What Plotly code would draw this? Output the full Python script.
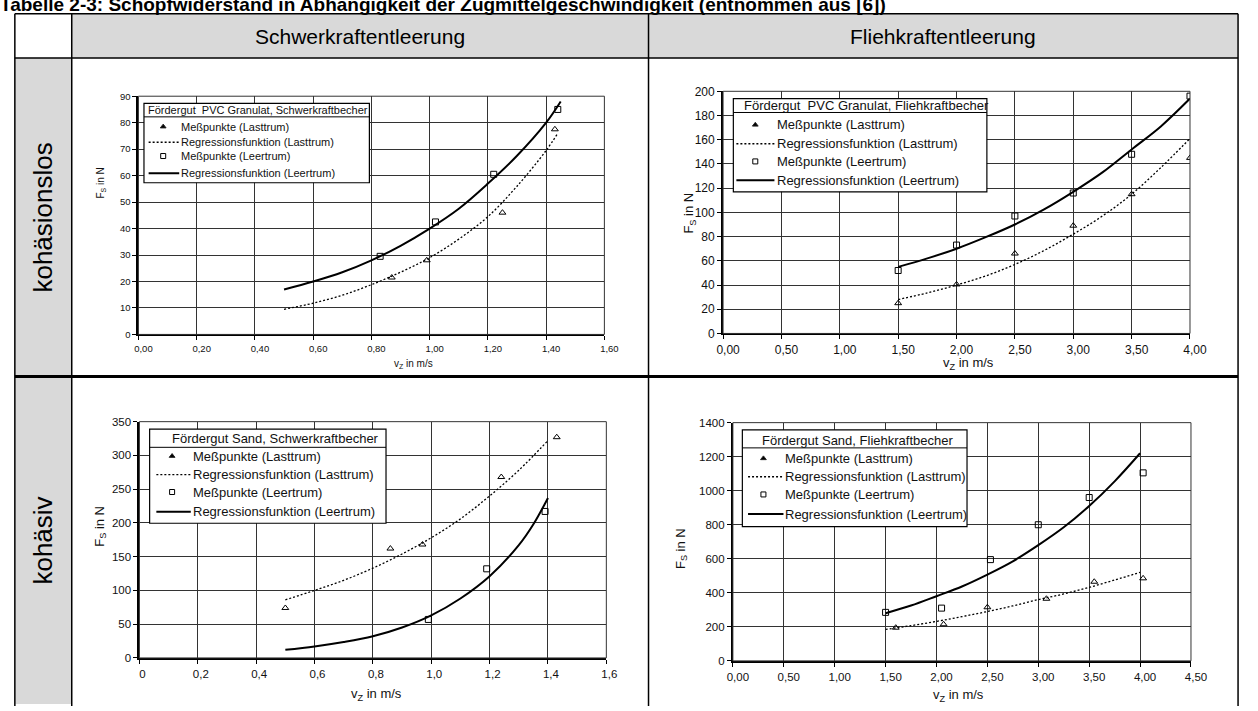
import plotly.graph_objects as go

W, H = 1258, 711

# ---------------- data ----------------
# PVC Granulat, Schwerkraftbecher
pvc_s_last_v = [0.87, 0.99, 1.25, 1.43]
pvc_s_last_f = [21.5, 28.0, 46.0, 77.5]
pvc_s_leer_v = [0.83, 1.02, 1.22, 1.44]
pvc_s_leer_f = [29.5, 42.5, 60.5, 85.0]
pvc_s_reg_last_v = [0.50, 0.60, 0.70, 0.80, 0.90, 1.00, 1.10, 1.20, 1.30, 1.40, 1.44]
pvc_s_reg_last_f = [9.5, 11.8, 14.8, 18.8, 23.5, 29.0, 36.0, 44.5, 56.0, 69.5, 76.0]
pvc_s_reg_leer_v = [0.50, 0.60, 0.70, 0.80, 0.90, 1.00, 1.10, 1.20, 1.30, 1.40, 1.45]
pvc_s_reg_leer_f = [17.0, 20.0, 23.5, 28.0, 33.5, 40.0, 47.5, 57.0, 67.5, 80.0, 88.0]

# PVC Granulat, Fliehkraftbecher
pvc_f_last_v = [1.5, 2.0, 2.5, 3.0, 3.5, 4.0]
pvc_f_last_f = [25.0, 40.5, 66.0, 89.0, 115.0, 145.0]
pvc_f_leer_v = [1.5, 2.0, 2.5, 3.0, 3.5, 4.0]
pvc_f_leer_f = [52.0, 73.0, 97.0, 116.0, 148.0, 196.0]
pvc_f_reg_v = [1.50, 1.75, 2.00, 2.25, 2.50, 2.75, 3.00, 3.25, 3.50, 3.75, 4.00]
pvc_f_reg_last_f = [28.0, 33.5, 40.0, 47.5, 57.0, 68.5, 82.0, 97.0, 115.0, 137.0, 161.0]
pvc_f_reg_leer_f = [55.0, 62.0, 70.0, 79.5, 90.0, 102.5, 117.0, 133.0, 152.0, 171.0, 194.0]

# Sand, Schwerkraftbecher
sand_s_last_v = [0.50, 0.86, 0.97, 1.24, 1.43]
sand_s_last_f = [74.0, 162.0, 168.0, 268.0, 327.0]
sand_s_leer_v = [0.99, 1.19, 1.39]
sand_s_leer_f = [57.0, 132.0, 217.0]
sand_s_reg_last_v = [0.5, 0.6, 0.7, 0.8, 0.9, 1.0, 1.1, 1.2, 1.3, 1.4]
sand_s_reg_last_f = [86.0, 100.0, 115.0, 133.0, 154.0, 178.0, 206.0, 240.0, 278.0, 322.0]
sand_s_reg_leer_v = [0.50, 0.60, 0.70, 0.80, 0.90, 1.00, 1.10, 1.20, 1.30, 1.35, 1.40]
sand_s_reg_leer_f = [12.0, 17.0, 23.5, 32.0, 45.0, 63.0, 88.0, 121.0, 167.0, 198.0, 237.0]

# Sand, Fliehkraftbecher
sand_f_last_v = [1.60, 2.07, 2.50, 3.08, 3.55, 4.03]
sand_f_last_f = [195.0, 215.0, 315.0, 365.0, 465.0, 485.0]
sand_f_leer_v = [1.50, 2.05, 2.53, 3.00, 3.50, 4.03]
sand_f_leer_f = [285.0, 310.0, 595.0, 800.0, 960.0, 1105.0]
sand_f_reg_v = [1.50, 1.75, 2.00, 2.25, 2.50, 2.75, 3.00, 3.25, 3.50, 3.75, 4.00]
sand_f_reg_last_f = [185.0, 207.0, 232.0, 260.0, 290.0, 323.0, 360.0, 393.0, 432.0, 475.0, 520.0]
sand_f_reg_leer_f = [280.0, 325.0, 380.0, 437.0, 507.0, 585.0, 680.0, 785.0, 910.0, 1055.0, 1220.0]

# tick values and labels
tl_x_ticks = [0.0, 0.2, 0.4, 0.6, 0.8, 1.0, 1.2, 1.4, 1.6]
tl_x_text = ["0,00", "0,20", "0,40", "0,60", "0,80", "1,00", "1,20", "1,40", "1,60"]
tl_y_ticks = [0, 10, 20, 30, 40, 50, 60, 70, 80, 90]
tr_x_ticks = [0.0, 0.5, 1.0, 1.5, 2.0, 2.5, 3.0, 3.5, 4.0]
tr_x_text = ["0,00", "0,50", "1,00", "1,50", "2,00", "2,50", "3,00", "3,50", "4,00"]
tr_y_ticks = [0, 20, 40, 60, 80, 100, 120, 140, 160, 180, 200]
bl_x_ticks = [0.0, 0.2, 0.4, 0.6, 0.8, 1.0, 1.2, 1.4, 1.6]
bl_x_text = ["0", "0,2", "0,4", "0,6", "0,8", "1,0", "1,2", "1,4", "1,6"]
bl_y_ticks = [0, 50, 100, 150, 200, 250, 300, 350]
br_x_ticks = [0.0, 0.5, 1.0, 1.5, 2.0, 2.5, 3.0, 3.5, 4.0, 4.5]
br_x_text = ["0,00", "0,50", "1,00", "1,50", "2,00", "2,50", "3,00", "3,50", "4,00", "4,50"]
br_y_ticks = [0, 200, 400, 600, 800, 1000, 1200, 1400]

legend_entries = ["Meßpunkte (Lasttrum)", "Regressionsfunktion (Lasttrum)",
                  "Meßpunkte (Leertrum)", "Regressionsfunktion (Leertrum)"]

FONT = "Arial, Liberation Sans, sans-serif"
INK = "#111111"
DOTS = "2px,2px"


def px(x):
    return x / W


def py(y):
    return 1 - y / H


fig = go.Figure()
shapes = []
annotations = []

# ---------------- table frame ----------------
T_LEFT, T_RIGHT, T_TOP = 8, 1255, 7
HEAD_B, COL_L, COL_M, ROW_M = 52, 66, 654, 377
GRAY = "#d9d9d9"


def rect(x0, y0, x1, y1, fill):
    shapes.append(dict(type="rect", xref="paper", yref="paper", x0=px(x0), x1=px(x1),
                       y0=py(y1), y1=py(y0), fillcolor=fill, line=dict(width=0), layer="below"))


def pline(x0, y0, x1, y1, w=1.5):
    shapes.append(dict(type="line", xref="paper", yref="paper", x0=px(x0), x1=px(x1),
                       y0=py(y0), y1=py(y1), line=dict(color="black", width=w)))


rect(COL_L, T_TOP, T_RIGHT, HEAD_B, GRAY)
rect(T_LEFT, HEAD_B, COL_L, H, GRAY)
pline(T_LEFT, T_TOP, T_RIGHT, T_TOP)
pline(T_LEFT, HEAD_B, T_RIGHT, HEAD_B)
pline(T_LEFT, ROW_M, T_RIGHT, ROW_M, 3)
for xv in (T_LEFT, COL_L, COL_M, T_RIGHT):
    pline(xv, T_TOP, xv, H + 2)


def ptext(text, x, y, size, angle=0, bold=False, xanchor="center"):
    annotations.append(dict(text=text, xref="paper", yref="paper", x=px(x), y=py(y),
                            xanchor=xanchor, yanchor="middle", showarrow=False, textangle=angle,
                            font=dict(family=FONT, size=size, color="black",
                                      weight="bold" if bold else "normal")))


ptext("Tabelle 2-3: Schöpfwiderstand in Abhängigkeit der Zugmittelgeschwindigkeit (entnommen aus [6])",
      -9, -3, 19, bold=True, xanchor="left")
ptext("Schwerkraftentleerung", (COL_L + COL_M) / 2, (T_TOP + HEAD_B) / 2 + 1, 21)
ptext("Fliehkraftentleerung", (COL_M + T_RIGHT) / 2, (T_TOP + HEAD_B) / 2 + 1, 21)
ptext("kohäsionslos", 37, (HEAD_B + ROW_M) / 2, 26, angle=-90)
ptext("kohäsiv", 37, (ROW_M + H) / 2, 26, angle=-90)

# ---------------- charts ----------------
charts = [
    dict(ax="", box=(134, 91, 609, 334), xr=[0, 1.6], yr=[0, 90],
         xt=(tl_x_ticks, tl_x_text), yt=tl_y_ticks, tick=9.5, title=10, shift=5,
         xtitle=(414, 364), ytitle=(96, 180),
         traces=[(pvc_s_last_v, pvc_s_last_f, "m", "triangle-up-open"),
                 (pvc_s_reg_last_v, pvc_s_reg_last_f, "dot", None),
                 (pvc_s_leer_v, pvc_s_leer_f, "m", "square-open"),
                 (pvc_s_reg_leer_v, pvc_s_reg_leer_f, "solid", None)],
         leg=dict(box=(0.019, 0.793, 57.3, 87.3), sep=82.2,
                  head="Fördergut  PVC Granulat, Schwerkraftbecher", head_x=0.027, head_anchor="left",
                  head_y=84.7, rows=[78.5, 72.6, 67.4, 60.9], text_x=0.14, mark_x=0.085,
                  line=(0.035, 0.14), size=11)),
    dict(ax="2", box=(730, 86, 1206, 333), xr=[0, 4], yr=[0, 200],
         xt=(tr_x_ticks, tr_x_text), yt=tr_y_ticks, tick=12, title=13, shift=5,
         xtitle=(980, 364), ytitle=(696, 210),
         traces=[(pvc_f_last_v, pvc_f_last_f, "m", "triangle-up-open"),
                 (pvc_f_reg_v, pvc_f_reg_last_f, "dot", None),
                 (pvc_f_leer_v, pvc_f_leer_f, "m", "square-open"),
                 (pvc_f_reg_v, pvc_f_reg_leer_f, "solid", None)],
         leg=dict(box=(0.088, 2.26, 117, 194), sep=182.5,
                  head="Fördergut  PVC Granulat, Fliehkraftbecher", head_x=0.163, head_anchor="left",
                  head_y=188.2, rows=[172.3, 156.7, 142.1, 126.5], text_x=0.445, mark_x=0.276,
                  line=(0.114, 0.44), size=13)),
    dict(ax="3", box=(135, 423, 611, 664), xr=[0, 1.6], yr=[0, 350],
         xt=(bl_x_ticks, bl_x_text), yt=bl_y_ticks, tick=11.5, title=13, shift=3,
         xtitle=(377, 701), ytitle=(95, 530),
         traces=[(sand_s_last_v, sand_s_last_f, "m", "triangle-up-open"),
                 (sand_s_reg_last_v, sand_s_reg_last_f, "dot", None),
                 (sand_s_leer_v, sand_s_leer_f, "m", "square-open"),
                 (sand_s_reg_leer_v, sand_s_reg_leer_f, "solid", None)],
         leg=dict(box=(0.035, 0.845, 199.5, 339), sep=312,
                  head="Fördergut Sand, Schwerkraftbecher", head_x=0.466, head_anchor="center",
                  head_y=325, rows=[299, 271.5, 245.8, 216.7], text_x=0.176, mark_x=0.112,
                  line=(0.058, 0.176), size=13)),
    dict(ax="4", box=(740, 424, 1207, 667), xr=[0, 4.5], yr=[0, 1400],
         xt=(br_x_ticks, br_x_text), yt=br_y_ticks, tick=11.5, title=13, shift=5,
         xtitle=(970, 702), ytitle=(687, 552),
         traces=[(sand_f_last_v, sand_f_last_f, "m", "triangle-up-open"),
                 (sand_f_reg_v, sand_f_reg_last_f, "dot", None),
                 (sand_f_leer_v, sand_f_leer_f, "m", "square-open"),
                 (sand_f_reg_v, sand_f_reg_leer_f, "solid", None)],
         leg=dict(box=(0.093, 2.30, 789.5, 1357.6), sep=1251.7,
                  head="Fördergut Sand, Fliehkraftbecher", head_x=1.225, head_anchor="center",
                  head_y=1294, rows=[1190, 1082, 978, 863], text_x=0.497, mark_x=0.30,
                  line=(0.149, 0.497), size=13)),
]

layout_axes = {}
for c in charts:
    xa, ya = "x" + c["ax"], "y" + c["ax"]
    x0, y0, x1, y1 = c["box"]
    tickfont = dict(family=FONT, size=c["tick"], color=INK)
    common = dict(showgrid=True, gridcolor="#333333", gridwidth=1, zeroline=False,
                  showline=True, linecolor="black", linewidth=2, ticks="outside",
                  ticklen=4, tickcolor="black", tickfont=tickfont, fixedrange=True)
    layout_axes["xaxis" + c["ax"]] = dict(common, domain=[px(x0), px(x1)], anchor=ya,
                                          range=c["xr"], tickmode="array",
                                          tickvals=c["xt"][0], ticktext=c["xt"][1],
                                          ticklabelshift=c["shift"])
    layout_axes["yaxis" + c["ax"]] = dict(common, domain=[py(y1), py(y0)], anchor=xa,
                                          range=c["yr"], tickmode="array",
                                          tickvals=c["yt"], ticktext=[str(v) for v in c["yt"]])
    # thin frame on top and right
    shapes.append(dict(type="rect", xref=xa + " domain", yref=ya + " domain", x0=0, x1=1, y0=0, y1=1,
                       line=dict(color="#333333", width=1)))

    for xs, ys, kind, sym in c["traces"]:
        if kind == "m":
            fig.add_trace(go.Scatter(x=xs, y=ys, mode="markers", xaxis=xa, yaxis=ya,
                                     marker=dict(symbol=sym, size=6, color="black",
                                                 line=dict(width=1, color="#222222")),
                                     showlegend=False, hoverinfo="skip"))
        else:
            fig.add_trace(go.Scatter(x=xs, y=ys, mode="lines", xaxis=xa, yaxis=ya,
                                     line=dict(color="black", width=1.3 if kind == "dot" else 2,
                                               dash=DOTS if kind == "dot" else "solid",
                                               shape="spline"),
                                     showlegend=False, hoverinfo="skip"))

    # axis titles
    tf = dict(family=FONT, size=c["title"], color=INK)
    annotations.append(dict(text="v<sub>Z</sub> in m/s", xref="paper", yref="paper",
                            x=px(c["xtitle"][0]), y=py(c["xtitle"][1]), showarrow=False,
                            xanchor="center", yanchor="middle", font=tf))
    annotations.append(dict(text="F<sub>S</sub> in N", xref="paper", yref="paper",
                            x=px(c["ytitle"][0]), y=py(c["ytitle"][1]), showarrow=False,
                            xanchor="center", yanchor="middle", textangle=-90, font=tf))

    # legend box (white panel over the grid, under the traces)
    L = c["leg"]
    bx0, bx1, by0, by1 = L["box"]
    shapes.append(dict(type="rect", xref=xa, yref=ya, x0=bx0, x1=bx1, y0=by0, y1=by1,
                       fillcolor="white", line=dict(color="black", width=1.2), layer="between"))
    shapes.append(dict(type="line", xref=xa, yref=ya, x0=bx0, x1=bx1, y0=L["sep"], y1=L["sep"],
                       line=dict(color="black", width=1)))
    lf = dict(family=FONT, size=L["size"], color=INK)
    annotations.append(dict(text=L["head"], xref=xa, yref=ya, x=L["head_x"], y=L["head_y"],
                            xanchor=L["head_anchor"], yanchor="middle", showarrow=False, font=lf))
    for label, ry in zip(legend_entries, L["rows"]):
        annotations.append(dict(text=label, xref=xa, yref=ya, x=L["text_x"], y=ry,
                                xanchor="left", yanchor="middle", showarrow=False, font=lf))
    lx0, lx1 = L["line"]
    shapes.append(dict(type="line", xref=xa, yref=ya, x0=lx0, x1=lx1, y0=L["rows"][1], y1=L["rows"][1],
                       line=dict(color="black", width=1.3, dash=DOTS)))
    shapes.append(dict(type="line", xref=xa, yref=ya, x0=lx0, x1=lx1, y0=L["rows"][3], y1=L["rows"][3],
                       line=dict(color="black", width=2)))
    fig.add_trace(go.Scatter(x=[L["mark_x"], L["mark_x"]], y=[L["rows"][0], L["rows"][2]],
                             mode="markers", xaxis=xa, yaxis=ya, cliponaxis=False,
                             marker=dict(symbol=["triangle-up", "square-open"], size=5,
                                         color="black", line=dict(width=1, color="#222222")),
                             showlegend=False, hoverinfo="skip"))

fig.update_layout(
    width=W, height=H, margin=dict(l=0, r=0, t=0, b=0),
    paper_bgcolor="white", plot_bgcolor="white",
    showlegend=False, shapes=shapes, annotations=annotations,
    font=dict(family=FONT, color=INK),
    **layout_axes,
)

fig.write_html("out.html")
